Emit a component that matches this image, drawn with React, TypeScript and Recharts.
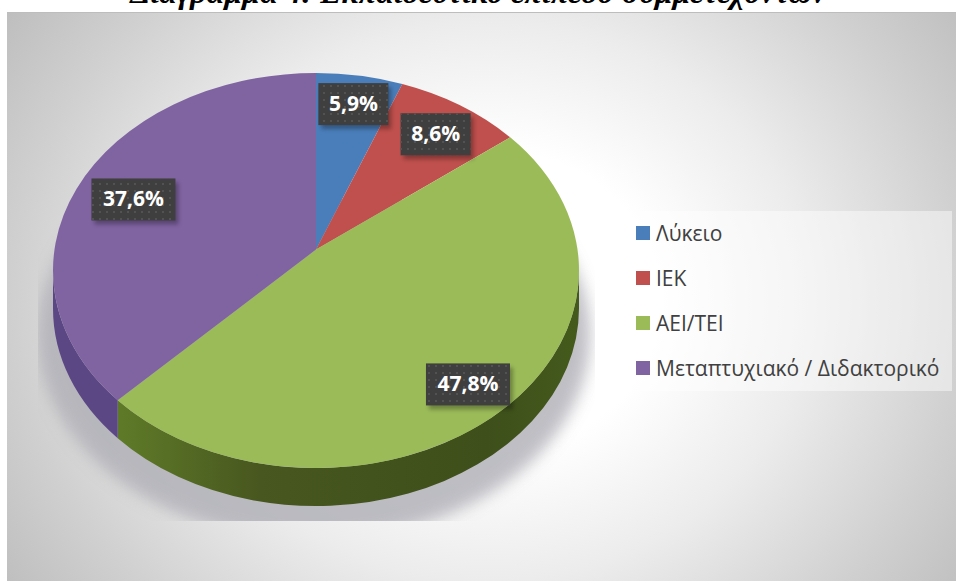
import React from "react";
import { PieChart, Pie, Legend } from "recharts";

const categories = ["Λύκειο", "ΙΕΚ", "ΑΕΙ/ΤΕΙ", "Μεταπτυχιακό / Διδακτορικό"];
const shares = [5.9, 8.6, 47.8, 37.6];
const tickLabels = ["5,9%", "8,6%", "47,8%", "37,6%"];
const topColors = ["#4a7ebb", "#c0504d", "#9bbb59", "#8064a2"];
const sideColors = ["#2c4d75", "#772c2a", "url(#greenSide)", "#5c4785"];
const title = "Διάγραμμα 4: Εκπαιδευτικό επίπεδο συμμετεχόντων";

const W = 956;
const H = 581;
const CX = 316;
const CY = 270.5;
const RADIUS = 263;
const SQUASH = 197.5 / 263;
const TILT = 0.106; // how far the apex sits above the ellipse centre, in unit-circle terms
const DEPTH = 38;
const labelReach = [
  [0.77, 0.84],
  [0.76, 0.84],
  [0.87, 0.8],
  [0.75, 0.93],
];

const topData = categories.map((name, i) => ({ name, value: shares[i], fill: topColors[i], idx: i }));
const sideData = categories.map((name, i) => ({ name, value: shares[i], fill: sideColors[i], idx: i }));
const shadowData = [{ name: "shadow", value: 100, fill: "#aeaeb6" }];

// math angle (deg) -> clockwise-from-top angle (rad) after the perspective tilt
const project = (deg: number) => {
  const a = (deg * Math.PI) / 180;
  const x = Math.cos(a);
  const y = Math.sin(a);
  const d = 1 + TILT * y;
  const px = (x * Math.sqrt(1 - TILT * TILT)) / d;
  const py = (y + TILT) / d;
  let t = Math.atan2(px, py);
  if (t < -1e-6) t += 2 * Math.PI;
  return t;
};
const rim = (cx: number, cy: number, r: number, t: number) => [
  cx + r * Math.sin(t),
  cy - r * SQUASH * Math.cos(t),
];

const TopSlice = (p: any) => {
  const t1 = project(p.startAngle);
  let t2 = project(p.endAngle);
  if (t2 <= t1) t2 += 2 * Math.PI;
  const [x1, y1] = rim(p.cx, p.cy, p.outerRadius, t1);
  const [x2, y2] = rim(p.cx, p.cy, p.outerRadius, t2);
  const ay = p.cy - TILT * p.outerRadius * SQUASH;
  const large = t2 - t1 > Math.PI ? 1 : 0;
  const rx = p.outerRadius;
  const ry = rx * SQUASH;
  return (
    <path
      d={`M${p.cx},${ay}L${x1},${y1}A${rx},${ry} 0 ${large} 1 ${x2},${y2}Z`}
      fill={p.fill}
    />
  );
};

const SideSlice = (p: any) => {
  const lo = Math.PI / 2;
  const hi = (3 * Math.PI) / 2;
  const t1 = Math.max(project(p.startAngle), lo);
  let t2 = project(p.endAngle);
  if (t2 < project(p.startAngle)) t2 += 2 * Math.PI;
  t2 = Math.min(t2, hi);
  if (t2 <= t1) return <g />;
  const rx = p.outerRadius;
  const ry = rx * SQUASH;
  const [x1, y1] = rim(p.cx, p.cy, rx, t1);
  const [x2, y2] = rim(p.cx, p.cy, rx, t2);
  return (
    <path
      d={`M${x1},${y1}A${rx},${ry} 0 0 1 ${x2},${y2}L${x2},${y2 + DEPTH}A${rx},${ry} 0 0 0 ${x1},${y1 + DEPTH}Z`}
      fill={p.fill}
    />
  );
};

const ShadowSlice = (p: any) => (
  <g clipPath="url(#shadowClip)">
    <ellipse
      cx={p.cx - 2}
      cy={p.cy + 64.5}
      rx={p.outerRadius + 13}
      ry={p.outerRadius * SQUASH + 7.5}
      fill={p.fill}
      opacity={0.8}
      filter="url(#softBlur)"
    />
  </g>
);

const SliceLabel = (p: any) => {
  const i = p.index;
  const text = tickLabels[i];
  const rx = p.outerRadius;
  const ay = p.cy - TILT * rx * SQUASH;
  const a = (p.midAngle * Math.PI) / 180;
  const ex = p.cx + rx * Math.cos(a);
  const ey = p.cy - rx * SQUASH * Math.sin(a);
  const lx = p.cx + (ex - p.cx) * labelReach[i][0];
  const ly = ay + (ey - ay) * labelReach[i][1];
  const w = text.length > 4 ? 84 : 70;
  const h = 42;
  return (
    <g>
      <rect x={lx - w / 2 + 3} y={ly - h / 2 + 4} width={w} height={h} fill="#000" opacity={0.3} filter="url(#labelBlur)" />
      <rect x={lx - w / 2} y={ly - h / 2} width={w} height={h} fill="#3f3f3f" />
      <rect x={lx - w / 2} y={ly - h / 2} width={w} height={h} fill="url(#dots)" />
      <text
        x={lx}
        y={ly + 1}
        textAnchor="middle"
        dominantBaseline="middle"
        fill="#ffffff"
        fontFamily="'Open Sans', sans-serif"
        fontWeight={700}
        fontSize={21}
      >
        {text}
      </text>
    </g>
  );
};

const LegendBox = ({ payload }: any) => {
  const present = new Set((payload || []).map((e: any) => e.value));
  const rows = categories.filter((c) => present.has(c));
  return (
    <div
      style={{
        width: 328,
        height: 180,
        boxSizing: "border-box",
        padding: "0 0 1px 12px",
        background: "rgba(255,255,255,0.45)",
        display: "flex",
        flexDirection: "column",
        justifyContent: "space-around",
        fontFamily: "'Open Sans', sans-serif",
        fontSize: 21,
        color: "#404040",
      }}
    >
      {rows.map((name) => (
        <div key={name} style={{ display: "flex", alignItems: "center", height: 30 }}>
          <span style={{ width: 14, height: 14, background: topColors[categories.indexOf(name)], marginRight: 6, flex: "none" }} />
          <span style={{ whiteSpace: "nowrap" }}>{name}</span>
        </div>
      ))}
    </div>
  );
};

export default function App() {
  return (
    <div style={{ position: "absolute", left: 0, top: 0, width: W, height: H, background: "#fff", overflow: "hidden" }}>
      <div
        style={{
          position: "absolute",
          left: 7,
          top: 12,
          width: W - 7,
          height: H - 12,
          borderTop: "1px solid #bdbdbd",
          boxSizing: "border-box",
          background:
            "radial-gradient(ellipse 490px 430px at 483px 288px, #ffffff 0%, #ffffff 35%, #ececec 65%, #d0d0d0 97%, #bcbcbc 122%)",
        }}
      />
      <div
        style={{
          position: "absolute",
          left: 0,
          width: W,
          top: -24,
          textAlign: "center",
          fontFamily: "'Liberation Serif', serif",
          fontWeight: 700,
          fontStyle: "italic",
          fontSize: 32,
          lineHeight: "32px",
          color: "#000",
          whiteSpace: "nowrap",
        }}
      >
        {title}
      </div>
      <div style={{ position: "absolute", left: 0, top: 0 }}>
        <PieChart width={W} height={H} margin={{ top: 0, right: 0, bottom: 0, left: 0 }}>
          <defs>
            <filter id="softBlur" x="-10%" y="-10%" width="120%" height="120%">
              <feGaussianBlur stdDeviation="8" />
            </filter>
            <filter id="labelBlur" x="-20%" y="-30%" width="140%" height="160%">
              <feGaussianBlur stdDeviation="2" />
            </filter>
            <clipPath id="shadowClip">
              <rect x={38} y={200} width={557} height={321} />
            </clipPath>
            <pattern id="dots" x="0" y="0" width="7" height="7" patternUnits="userSpaceOnUse">
              <rect x="1" y="1" width="2" height="2" fill="#525252" />
            </pattern>
            <linearGradient id="greenSide" gradientUnits="userSpaceOnUse" x1="122" y1="0" x2="578" y2="0">
              <stop offset="0" stopColor="#5e7a28" />
              <stop offset="0.3" stopColor="#48571f" />
              <stop offset="0.8" stopColor="#3e4f1b" />
              <stop offset="1" stopColor="#445a1c" />
            </linearGradient>
          </defs>
          <Pie
            data={shadowData}
            dataKey="value"
            nameKey="name"
            cx={CX}
            cy={CY}
            outerRadius={RADIUS}
            startAngle={90}
            endAngle={-270}
            stroke="none"
            legendType="none"
            shape={ShadowSlice}
            isAnimationActive={false}
          />
          <Pie
            data={sideData}
            dataKey="value"
            nameKey="name"
            cx={CX}
            cy={CY}
            outerRadius={RADIUS}
            startAngle={90}
            endAngle={-270}
            stroke="none"
            legendType="none"
            shape={SideSlice}
            isAnimationActive={false}
          />
          <Pie
            data={topData}
            dataKey="value"
            nameKey="name"
            cx={CX}
            cy={CY}
            outerRadius={RADIUS}
            startAngle={90}
            endAngle={-270}
            stroke="none"
            shape={TopSlice}
            label={SliceLabel}
            labelLine={false}
            isAnimationActive={false}
          />
          <Legend
            layout="vertical"
            align="right"
            verticalAlign="top"
            content={LegendBox}
            wrapperStyle={{ left: 624, top: 211, width: 328 }}
          />
        </PieChart>
      </div>
    </div>
  );
}
